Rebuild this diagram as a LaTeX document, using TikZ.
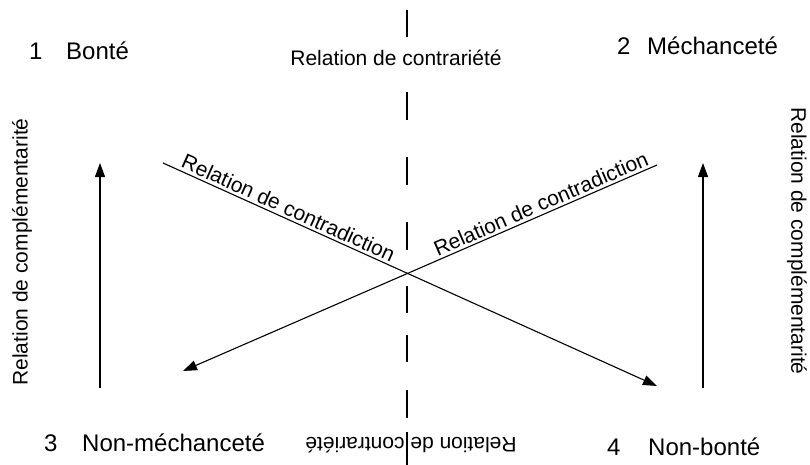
\documentclass[tikz,border=0pt]{standalone}
\usepackage{fontspec}
\setmainfont{Liberation Sans}
\usetikzlibrary{arrows.meta}
\begin{document}
\begin{tikzpicture}[x=1pt,y=-1pt,
  lab/.style={font=\fontsize{24}{28}\selectfont, inner sep=0pt, anchor=base west},
  rel/.style={font=\fontsize{21}{25}\selectfont, inner sep=0pt},
  arr/.style={line width=1.1pt, -{Triangle[length=14pt,width=10pt]}},
  axisline/.style={line width=1.1pt}]
\useasboundingbox (0,0) rectangle (810,465);
% corner labels
\node[lab] (n1) at (29,60) {1};
\node[lab] (bonte) at (66,60) {Bonté};
\node[lab] (n2) at (617,55) {2};
\node[lab] (mech) at (647,55) {Méchanceté};
\node[lab] (n3) at (44,451) {3};
\node[lab] (nonmech) at (82,451) {Non-méchanceté};
\node[lab] (n4) at (607,455) {4};
\node[lab] (nonbonte) at (648,455) {Non-bonté};
% relation labels
\node[rel, anchor=base] (ctop) at (396,66) {Relation de contrariété};
\node[rel, rotate=180] (cbot) at (411,445) {Relation de contrariété};
\node[rel, rotate=90] (compl) at (22,252) {Relation de complémentarité};
\node[rel, rotate=-90] (compr) at (797,241) {Relation de complémentarité};
% dashed axis
\foreach \a/\b in {10/37, 92/120, 157/185, 222/250, 286/313, 335/362, 390/418, 432/465}
  \draw[axisline] (407,\a) -- (407,\b);
% vertical arrows
\coordinate (L1s) at (100,388); \coordinate (L1e) at (100,163);
\coordinate (R1s) at (703,388); \coordinate (R1e) at (703,163);
\draw[arr] (L1s) -- (L1e);
\draw[arr] (R1s) -- (R1e);
% diagonals
\coordinate (D1s) at (163,163); \coordinate (D1e) at (657,386);
\coordinate (D2s) at (657,165); \coordinate (D2e) at (183,371);
\draw[arr] (D1s) -- (D1e);
\draw[arr] (D2s) -- (D2e);
\path (D1s) -- (D1e) node[rel, sloped, pos=0.245, above=3pt] (t1) {Relation de contradiction};
\path (D2e) -- (D2s) node[rel, sloped, pos=0.764, above=3pt] (t2) {Relation de contradiction};
\end{tikzpicture}
\end{document}
